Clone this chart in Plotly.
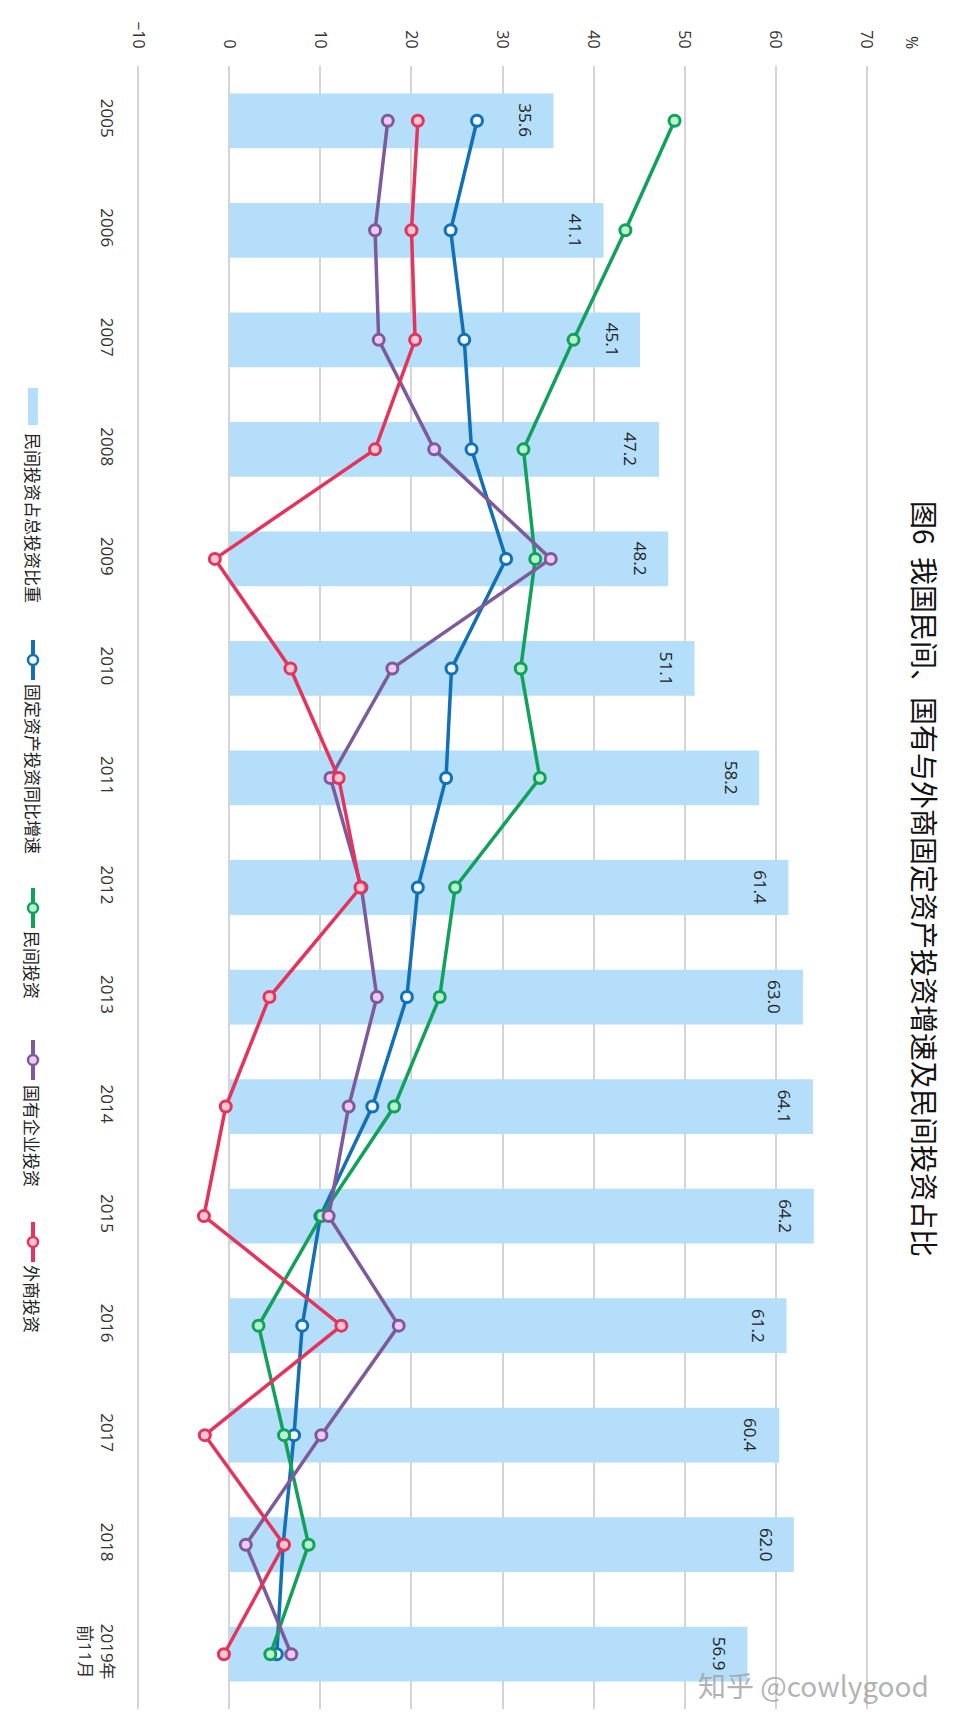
import plotly.graph_objects as go

# categories (top to bottom) and series
years = ["2005", "2006", "2007", "2008", "2009", "2010", "2011", "2012",
         "2013", "2014", "2015", "2016", "2017", "2018", "2019年<br>前11月"]
share_private = [35.6, 41.1, 45.1, 47.2, 48.2, 51.1, 58.2, 61.4, 63.0, 64.1, 64.2, 61.2, 60.4, 62.0, 56.9]
fixed_asset = [27.2, 24.3, 25.8, 26.6, 30.4, 24.4, 23.8, 20.7, 19.5, 15.7, 10.0, 8.0, 7.1, 5.9, 5.2]
private_inv = [48.9, 43.5, 37.8, 32.3, 33.6, 32.0, 34.1, 24.8, 23.1, 18.1, 10.1, 3.2, 6.0, 8.7, 4.5]
soe_inv = [17.4, 16.0, 16.4, 22.5, 35.3, 17.9, 11.1, 14.5, 16.2, 13.1, 10.9, 18.6, 10.1, 1.8, 6.8]
foreign_inv = [20.7, 20.0, 20.4, 16.0, -1.6, 6.7, 12.0, 14.4, 4.4, -0.4, -2.8, 12.3, -2.7, 6.0, -0.6]
value_ticks = [-10, 0, 10, 20, 30, 40, 50, 60, 70]

FONT = "Open Sans, Noto Sans CJK SC, sans-serif"
CJK = "Noto Sans CJK SC, sans-serif"
BAR_COLOR = "#b4defa"

# the page body adds an 8px margin, so the figure is drawn 8px smaller
PAGE_OFF = 8
W, H = 957 - PAGE_OFF, 1731 - PAGE_OFF
# plot area in page pixels, used to place the hand-built rotated legend
L, R, T, B = 137, 868, 66, 1709


def px(x):
    return (x - L) / (R - L)


def py(y):
    return (B - y) / (B - T)


series = [
    ("固定资产投资同比增速", fixed_asset, "#1170b6", "#eef7ff"),
    ("民间投资", private_inv, "#12a15b", "#b6f3cf"),
    ("国有企业投资", soe_inv, "#7d5a9b", "#f1c9f0"),
    ("外商投资", foreign_inv, "#e4345c", "#fcc6d2"),
]

fig = go.Figure()
fig.add_trace(go.Bar(
    x=share_private, y=years, orientation="h", width=0.5,
    marker=dict(color=BAR_COLOR, line=dict(width=0)),
    name="民间投资占总投资比重", hoverinfo="x+y",
))
for name, vals, c, fill in series:
    fig.add_trace(go.Scatter(
        x=vals, y=years, mode="lines+markers", name=name,
        line=dict(color=c, width=3.5),
        marker=dict(size=11, color=fill, line=dict(color=c, width=3)),
    ))

annotations = []
# bar value labels, rotated like the rest of the chart (y given as category index)
for i, v in enumerate(share_private):
    annotations.append(dict(
        x=v, y=i, xref="x", yref="y", text=f"{v:.1f}", showarrow=False,
        textangle=90, xshift=-28, xanchor="center", yanchor="middle",
        font=dict(family=FONT, size=17, color="#222"),
    ))

# title and unit
annotations.append(dict(
    x=px(925), y=py(879), xref="paper", yref="paper",
    text="图6  我国民间、国有与外商固定资产投资增速及民间投资占比",
    showarrow=False, textangle=90, xanchor="center", yanchor="middle",
    font=dict(family=CJK, size=28, color="#111"),
))
annotations.append(dict(
    x=px(912), y=py(42), xref="paper", yref="paper", text="%",
    showarrow=False, textangle=90, xanchor="center", yanchor="middle",
    font=dict(family=FONT, size=16, color="#333"),
))

# legend (rotated), built by hand
shapes = []
shapes.append(dict(type="rect", xref="paper", yref="paper",
                   x0=px(28), x1=px(38), y0=py(388), y1=py(425),
                   fillcolor=BAR_COLOR, line=dict(width=0)))
annotations.append(dict(
    x=px(33), y=py(518), xref="paper", yref="paper", text="民间投资占总投资比重",
    showarrow=False, textangle=90, xanchor="center", yanchor="middle",
    font=dict(family=CJK, size=17, color="#222"),
))
legend_pos = [(640, 769), (888, 965), (1040, 1136), (1222, 1299)]
for (name, vals, c, fill), (top, text_y) in zip(series, legend_pos):
    shapes.append(dict(type="line", xref="paper", yref="paper",
                       x0=px(33), x1=px(33), y0=py(top), y1=py(top + 40),
                       line=dict(color=c, width=4)))
    mid = top + 20
    shapes.append(dict(type="circle", xref="paper", yref="paper",
                       x0=px(28), x1=px(38), y0=py(mid + 5), y1=py(mid - 5),
                       fillcolor=fill, line=dict(color=c, width=2.5)))
    annotations.append(dict(
        x=px(33), y=py(text_y), xref="paper", yref="paper", text=name,
        showarrow=False, textangle=90, xanchor="center", yanchor="middle",
        font=dict(family=CJK, size=17, color="#222"),
    ))

# watermark
annotations.append(dict(
    x=px(813), y=py(1685), xref="paper", yref="paper", text="知乎 @cowlygood",
    showarrow=False, xanchor="center", yanchor="middle",
    font=dict(family=CJK, size=28, color="rgba(165,165,165,0.85)"),
))

fig.update_layout(
    width=W, height=H,
    margin=dict(l=L - PAGE_OFF, r=957 - R, t=T - PAGE_OFF, b=1731 - B),
    plot_bgcolor="white", paper_bgcolor="white",
    showlegend=False,
    font=dict(family=FONT, color="#333"),
    xaxis=dict(
        range=[-10.15, 70.15], side="top", tickvals=value_ticks, tickangle=90,
        showgrid=True, gridcolor="#d4d4d4", gridwidth=2, zeroline=False,
        showline=False, ticks="", ticklabelstandoff=14, automargin=False,
        tickfont=dict(family=FONT, size=16, color="#333"),
    ),
    yaxis=dict(
        type="category", range=[len(years) - 0.5, -0.5], tickangle=90,
        showgrid=False, zeroline=False, showline=False, ticks="",
        ticklabelstandoff=18, automargin=False,
        tickfont=dict(family=FONT, size=17, color="#333"),
    ),
    annotations=annotations,
    shapes=shapes,
)

fig.write_html("out.html")
